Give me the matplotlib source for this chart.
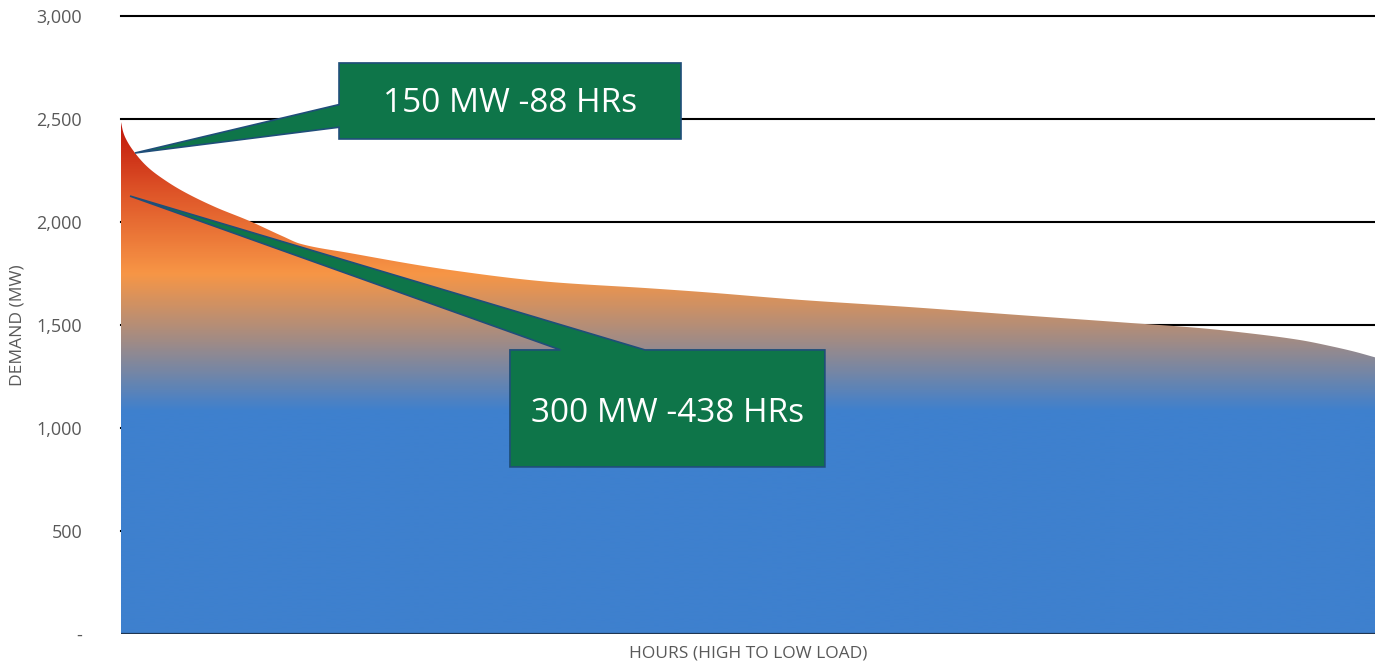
import numpy as np
import matplotlib
matplotlib.use("Agg")
import matplotlib.pyplot as plt
from matplotlib.colors import LinearSegmentedColormap
from matplotlib.patches import Polygon

# ---------------- data ----------------
hours = [0, 14, 28, 98, 189, 307, 426, 657, 887, 1132, 1250, 1600, 2298, 2997,
         3695, 4044, 4743, 5511, 6280, 7048, 7537, 7816, 8236, 8466, 8620, 8760]
demand = [2485, 2440, 2413, 2335, 2265, 2203, 2152, 2073, 2008, 1930, 1895, 1849, 1767, 1709,
          1678, 1661, 1622, 1587, 1548, 1510, 1485, 1465, 1427, 1395, 1370, 1343]
y_ticks = [0, 500, 1000, 1500, 2000, 2500, 3000]
y_tick_labels = ["-", "500", "1,000", "1,500", "2,000", "2,500", "3,000"]
callout_texts = ["150 MW -88 HRs", "300 MW -438 HRs"]

# gradient stops (MW, colour)
grad_mw = [0, 1080, 1450, 1750, 2150, 2485]
grad_col = ["#3E80CE", "#3E80CE", "#A88C80", "#F79646", "#DE5428", "#C0150A"]


def pchip(xk, yk, xq):
    """Monotone cubic (Fritsch-Carlson) evaluation for drawing a smooth curve."""
    xk = np.asarray(xk, float); yk = np.asarray(yk, float)
    h = np.diff(xk); d = np.diff(yk) / h
    m = np.zeros_like(yk)
    for i in range(1, len(yk) - 1):
        if d[i - 1] * d[i] > 0:
            w1 = 2 * h[i] + h[i - 1]; w2 = h[i] + 2 * h[i - 1]
            m[i] = (w1 + w2) / (w1 / d[i - 1] + w2 / d[i])
    m[0] = d[0]; m[-1] = d[-1]
    idx = np.clip(np.searchsorted(xk, xq) - 1, 0, len(h) - 1)
    t = (xq - xk[idx]) / h[idx]
    h00 = 2 * t**3 - 3 * t**2 + 1; h10 = t**3 - 2 * t**2 + t
    h01 = -2 * t**3 + 3 * t**2; h11 = t**3 - t**2
    return (h00 * yk[idx] + h10 * h[idx] * m[idx] + h01 * yk[idx + 1]
            + h11 * h[idx] * m[idx + 1])


# ---------------- figure ----------------
plt.rcParams['font.family'] = ['Open Sans', 'DejaVu Sans']
fig = plt.figure(figsize=(13.75, 6.64), dpi=100)
ax = fig.add_axes([0.088, 0.0452, 0.912, 0.9307])

# gridlines
for t in y_ticks[1:]:
    ax.axhline(t, color="black", lw=1.5, zorder=1, clip_on=False)

# gradient area
xs = np.linspace(0, 8760, 3000)
ys = pchip(hours, demand, xs)
poly = ax.fill_between(xs, 0, ys, color="none", lw=0, zorder=2)
stops = [(m / grad_mw[-1], c) for m, c in zip(grad_mw, grad_col)]
cmap = LinearSegmentedColormap.from_list("g", stops)
grad = np.linspace(0, 1, 800).reshape(-1, 1)
im = ax.imshow(grad, cmap=cmap, aspect="auto", origin="lower",
               extent=[0, 8760, 0, grad_mw[-1]], interpolation="bilinear", zorder=2)
im.set_clip_path(poly.get_paths()[0], transform=ax.transData)
ax.set_xlim(0, 8760)
ax.set_ylim(0, 3000)

# bottom axis line
ax.axhline(0, color="#1F3550", lw=1.6, zorder=3)

# ---------------- callouts ----------------
green = "#0E7549"
edge = "#1F4E79"

# callout 1: box + wedge pointing to (98 h, 2335 MW)
b1 = dict(x0=1523, x1=3912, y0=2403, y1=2772)
tip1 = (98, 2335)
verts1 = [(b1["x0"], b1["y0"]), (b1["x1"], b1["y0"]), (b1["x1"], b1["y1"]),
          (b1["x0"], b1["y1"]), (b1["x0"], 2570), tip1, (b1["x0"], 2460)]
ax.add_patch(Polygon(verts1, closed=True, facecolor=green, edgecolor=edge, lw=1.2, zorder=5))
ax.text((b1["x0"] + b1["x1"]) / 2, (b1["y0"] + b1["y1"]) / 2 - 10, callout_texts[0],
        color="white", fontsize=24, ha="center", va="center", zorder=6)

# callout 2: box + wedge pointing to (63 h, 2126 MW)
b2 = dict(x0=2717, x1=4917, y0=811, y1=1379)
tip2 = (63, 2126)
verts2 = [(b2["x0"], b2["y0"]), (b2["x1"], b2["y0"]), (b2["x1"], b2["y1"]),
          (3660, b2["y1"]), tip2, (3070, b2["y1"]), (b2["x0"], b2["y1"])]
ax.add_patch(Polygon(verts2, closed=True, facecolor=green, edgecolor=edge, lw=1.2, zorder=5))
ax.text((b2["x0"] + b2["x1"]) / 2, (b2["y0"] + b2["y1"]) / 2 - 25, callout_texts[1],
        color="white", fontsize=24, ha="center", va="center", zorder=6)

# ---------------- axes styling ----------------
for s in ax.spines.values():
    s.set_visible(False)
ax.set_xticks([])
ax.set_yticks(y_ticks)
ax.set_yticklabels(y_tick_labels)
ax.tick_params(axis="y", length=0, pad=28, labelsize=13, labelcolor="#595959")
ax.set_xlabel("HOURS (HIGH TO LOW LOAD)", fontsize=12.5, color="#595959", labelpad=8)
ax.set_ylabel("DEMAND (MW)", fontsize=12.5, color="#595959", labelpad=8)

fig.savefig("out.png", dpi=100)
